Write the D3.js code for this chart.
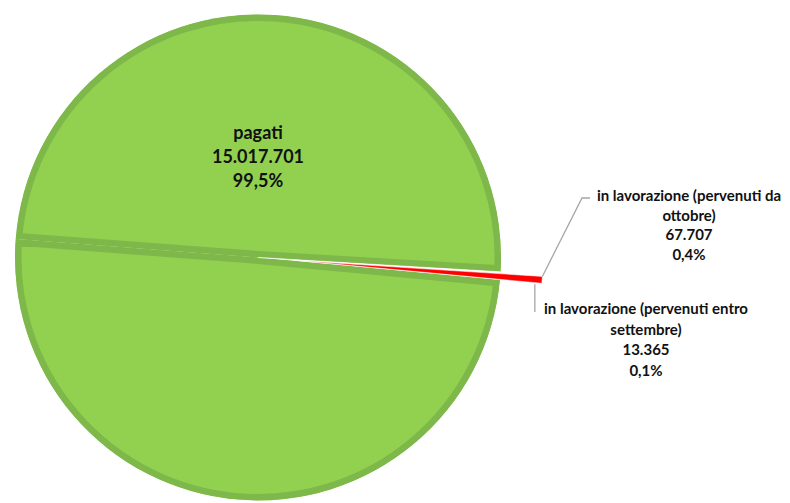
<!DOCTYPE html>
<html><head><meta charset="utf-8">
<script src="https://cdn.jsdelivr.net/npm/d3@7"></script>
<style>html,body{margin:0;padding:0;background:#fff;}svg{display:block;}</style>
</head><body>
<svg id="c" width="790" height="503"></svg>
<script>
const categories = ["pagati", "in lavorazione (pervenuti entro settembre)", "in lavorazione (pervenuti da ottobre)"];
const values = [15017701, 13365, 67707];
const valueLabels = ["15.017.701", "13.365", "67.707"];
const pctLabels = ["99,5%", "0,1%", "0,4%"];
const colors = ["#92D050", "#FFFFFF", "#FF0000"];

(function () {
const svg = d3.select("#c");
const cx = 258, cy = 257.5, R = 243;
const FONT = "Lato, 'Open Sans', 'Liberation Sans', sans-serif";

const total = d3.sum(values);
const deg = Math.PI / 180;
const fr = values.map(v => v / total * 2 * Math.PI);
const redMid = 94.5 * deg;
const start = redMid - fr[2] / 2 - fr[1] - fr[0];
const pie = d3.pie().sort(null).value(d => d).startAngle(start).endAngle(start + 2 * Math.PI);
const arcsData = pie(values);
const arc = d3.arc().innerRadius(0).outerRadius(R);
const explode = [0, 0, 42];

const defs = svg.append("defs");

const p = arcsData[0];
const midA = (p.startAngle + p.endAngle) / 2;
const halves = [{startAngle: p.startAngle, endAngle: midA}, {startAngle: midA, endAngle: p.endAngle}];
halves.forEach((h, i) => {
  const dPath = arc(h);
  defs.append("clipPath").attr("id", "clip" + i).append("path").attr("d", dPath).attr("transform", `translate(${cx},${cy})`);
  const gg = svg.append("g").attr("clip-path", `url(#clip${i})`).append("g").attr("transform", `translate(${cx},${cy})`);
  gg.append("path").attr("d", dPath).attr("fill", colors[0]).attr("stroke", "#7EB84A").attr("stroke-width", 13).attr("stroke-linejoin", "miter");
});

const small = svg.append("g").attr("transform", `translate(${cx},${cy})`);
arcsData.slice(1).forEach((a, k) => {
  const i = k + 1;
  const m = (a.startAngle + a.endAngle) / 2;
  const ox = Math.sin(m) * explode[i], oy = -Math.cos(m) * explode[i];
  small.append("path").attr("d", arc(a)).attr("transform", `translate(${ox},${oy})`)
    .attr("fill", colors[i]).attr("stroke", "#fff").attr("stroke-width", 0.5);
});

const a2 = arcsData[2];
const m2 = (a2.startAngle + a2.endAngle) / 2;
const ox2 = Math.sin(m2) * explode[2], oy2 = -Math.cos(m2) * explode[2];
const endTop = [cx + ox2 + Math.sin(a2.startAngle) * R, cy + oy2 - Math.cos(a2.startAngle) * R];
const endBot = [cx + ox2 + Math.sin(a2.endAngle) * R, cy + oy2 - Math.cos(a2.endAngle) * R];
svg.append("polyline").attr("points", [[endTop[0], endTop[1]], [582, 198], [590, 198]].map(d => d.join(",")).join(" "))
  .attr("fill", "none").attr("stroke", "#A6A6A6").attr("stroke-width", 1.3);
svg.append("polyline").attr("points", [[endBot[0] - 7, endBot[1] + 1], [endBot[0] - 7, 312]].map(d => d.join(",")).join(" "))
  .attr("fill", "none").attr("stroke", "#A6A6A6").attr("stroke-width", 1.3);

function label(x, y, lines, size, lh) {
  const t = svg.append("text").attr("x", x).attr("y", y).attr("text-anchor", "middle")
    .attr("font-family", FONT).attr("font-weight", "bold").attr("font-size", size).attr("fill", "#111");
  lines.forEach((l, i) => t.append("tspan").attr("x", x).attr("dy", i === 0 ? 0 : lh).text(l));
}
label(258, 139, [categories[0], valueLabels[0], pctLabels[0]], 18, 24);
label(689, 201, ["in lavorazione (pervenuti da", "ottobre)", valueLabels[2], pctLabels[2]], 15, 19.7);
label(646, 314, ["in lavorazione (pervenuti entro", "settembre)", valueLabels[1], pctLabels[1]], 15, 20.5);
})();
</script>
</body></html>
